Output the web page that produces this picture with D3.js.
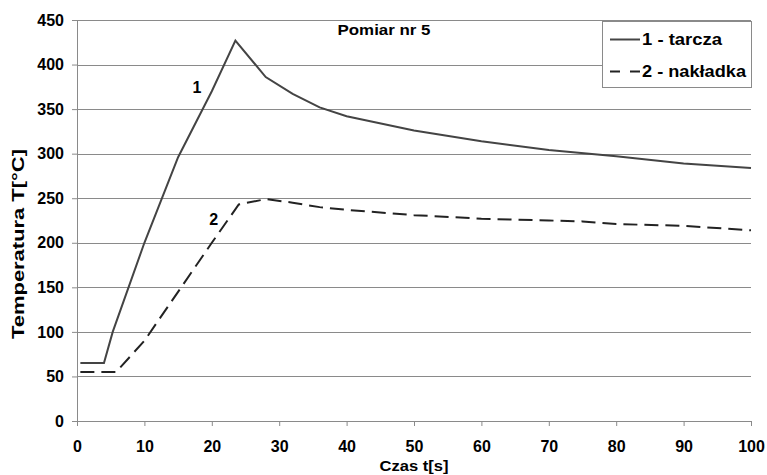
<!DOCTYPE html>
<html>
<head>
<meta charset="utf-8">
<script src="https://d3js.org/d3.v7.min.js"></script>
<style>
  body { margin: 0; background: #fff; }
  text { font-family: "Liberation Sans", Arial, sans-serif; font-weight: bold; fill: #000; }
</style>
</head>
<body>
<div id="chart"></div>
<script>
// series 1 - tarcza (solid)
var time1 = [0.5, 4, 5.3, 10, 15, 20, 23.5, 28, 32, 36, 40, 50, 60, 70, 80, 90, 100];
var temp1 = [65, 65, 100, 200, 296, 370, 427, 386, 367, 352, 342, 326, 314, 304, 297, 289, 284];

// series 2 - nakladka (dashed)
var time2 = [0.5, 5.8, 10, 20, 24, 28, 32, 36, 40, 50, 60, 70, 75, 80, 90, 100];
var temp2 = [55, 55, 90, 200, 243, 249, 245, 240, 237, 231, 227, 225, 224, 221, 219, 214];

var xTicks = [0, 10, 20, 30, 40, 50, 60, 70, 80, 90, 100];
var yTicks = [0, 50, 100, 150, 200, 250, 300, 350, 400, 450];
var seriesNames = ["1 - tarcza", "2 - nakładka"];
var curveLabels = ["1", "2"];
var curveLabelTime = [17.8, 20.3];
var curveLabelTemp = [374, 226];

var svgWidth = 767;
var svgHeight = 475;

var margin = { top: 20, right: 16, bottom: 54, left: 77 };
var width = svgWidth - margin.left - margin.right;
var height = svgHeight - margin.top - margin.bottom;

var svg = d3.select("#chart")
  .append("svg")
  .attr("width", svgWidth)
  .attr("height", svgHeight);

var chartGroup = svg.append("g")
  .attr("transform", `translate(${margin.left}, ${margin.top})`);

var xScale = d3.scaleLinear().domain([0, 100]).range([0, width]);
var yScale = d3.scaleLinear().domain([0, 450]).range([height, 0]);

// gridlines
chartGroup.append("g")
  .selectAll("line")
  .data(yTicks.filter(d => d > 0))
  .enter()
  .append("line")
  .attr("x1", 0)
  .attr("x2", width)
  .attr("y1", d => Math.round(yScale(d)) + 0.5)
  .attr("y2", d => Math.round(yScale(d)) + 0.5)
  .attr("stroke", "#8a8a8a")
  .attr("stroke-width", 1);

// axes
var xAxis = chartGroup.append("g")
  .attr("transform", `translate(0, ${height})`)
  .call(d3.axisBottom(xScale).tickValues(xTicks).tickSize(5).tickPadding(15).tickSizeOuter(0));

var yAxis = chartGroup.append("g")
  .call(d3.axisLeft(yScale).tickValues(yTicks).tickSize(5).tickPadding(8).tickSizeOuter(0));

[xAxis, yAxis].forEach(function(ax) {
  ax.select(".domain").attr("stroke", "#8a8a8a");
  ax.selectAll(".tick line").attr("stroke", "#8a8a8a");
  ax.selectAll(".tick text")
    .attr("fill", "#000")
    .style("font-size", "16px")
    .style("font-family", "'Liberation Sans', Arial, sans-serif")
    .style("font-weight", "bold");
});

// lines
var line = d3.line()
  .x(d => xScale(d[0]))
  .y(d => yScale(d[1]));

var data1 = time1.map((t, i) => [t, temp1[i]]);
var data2 = time2.map((t, i) => [t, temp2[i]]);

chartGroup.append("path")
  .datum(data1)
  .attr("d", line)
  .attr("fill", "none")
  .attr("stroke", "#444")
  .attr("stroke-width", 2);

chartGroup.append("path")
  .datum(data2)
  .attr("d", line)
  .attr("fill", "none")
  .attr("stroke", "#222")
  .attr("stroke-width", 2)
  .attr("stroke-dasharray", "14,7");

// curve numbers
chartGroup.selectAll(".curveLabel")
  .data(curveLabels)
  .enter()
  .append("text")
  .attr("x", (d, i) => xScale(curveLabelTime[i]))
  .attr("y", (d, i) => yScale(curveLabelTemp[i]))
  .attr("dy", "0.36em")
  .attr("text-anchor", "middle")
  .style("font-size", "16px")
  .text(d => d);

// title
svg.append("text")
  .attr("x", 384)
  .attr("y", 35)
  .attr("text-anchor", "middle")
  .attr("textLength", 93)
  .attr("lengthAdjust", "spacingAndGlyphs")
  .style("font-size", "14px")
  .text("Pomiar nr 5");

// axis titles
svg.append("text")
  .attr("x", 414)
  .attr("y", 471)
  .attr("text-anchor", "middle")
  .attr("textLength", 69)
  .attr("lengthAdjust", "spacingAndGlyphs")
  .style("font-size", "15px")
  .text("Czas t[s]");

svg.append("text")
  .attr("transform", "translate(24, 244) rotate(-90)")
  .attr("text-anchor", "middle")
  .attr("textLength", 190)
  .attr("lengthAdjust", "spacingAndGlyphs")
  .style("font-size", "16px")
  .text("Temperatura T[°C]");

// legend
var legend = svg.append("g");

legend.append("rect")
  .attr("x", 602.5)
  .attr("y", 21.5)
  .attr("width", 149)
  .attr("height", 66)
  .attr("fill", "#fff")
  .attr("stroke", "#8a8a8a");

var legendY = [39.5, 71.5];
var legendLen = [80, 104];

legend.selectAll(".legLine")
  .data(seriesNames)
  .enter()
  .append("line")
  .attr("x1", 610)
  .attr("x2", 640)
  .attr("y1", (d, i) => legendY[i])
  .attr("y2", (d, i) => legendY[i])
  .attr("stroke", (d, i) => i === 0 ? "#444" : "#222")
  .attr("stroke-width", 2)
  .attr("stroke-dasharray", (d, i) => i === 0 ? null : "10,10");

legend.selectAll(".legText")
  .data(seriesNames)
  .enter()
  .append("text")
  .attr("x", 642)
  .attr("y", (d, i) => legendY[i] + 5.5)
  .attr("textLength", (d, i) => legendLen[i])
  .attr("lengthAdjust", "spacingAndGlyphs")
  .style("font-size", "16px")
  .text(d => d);
</script>
</body>
</html>
